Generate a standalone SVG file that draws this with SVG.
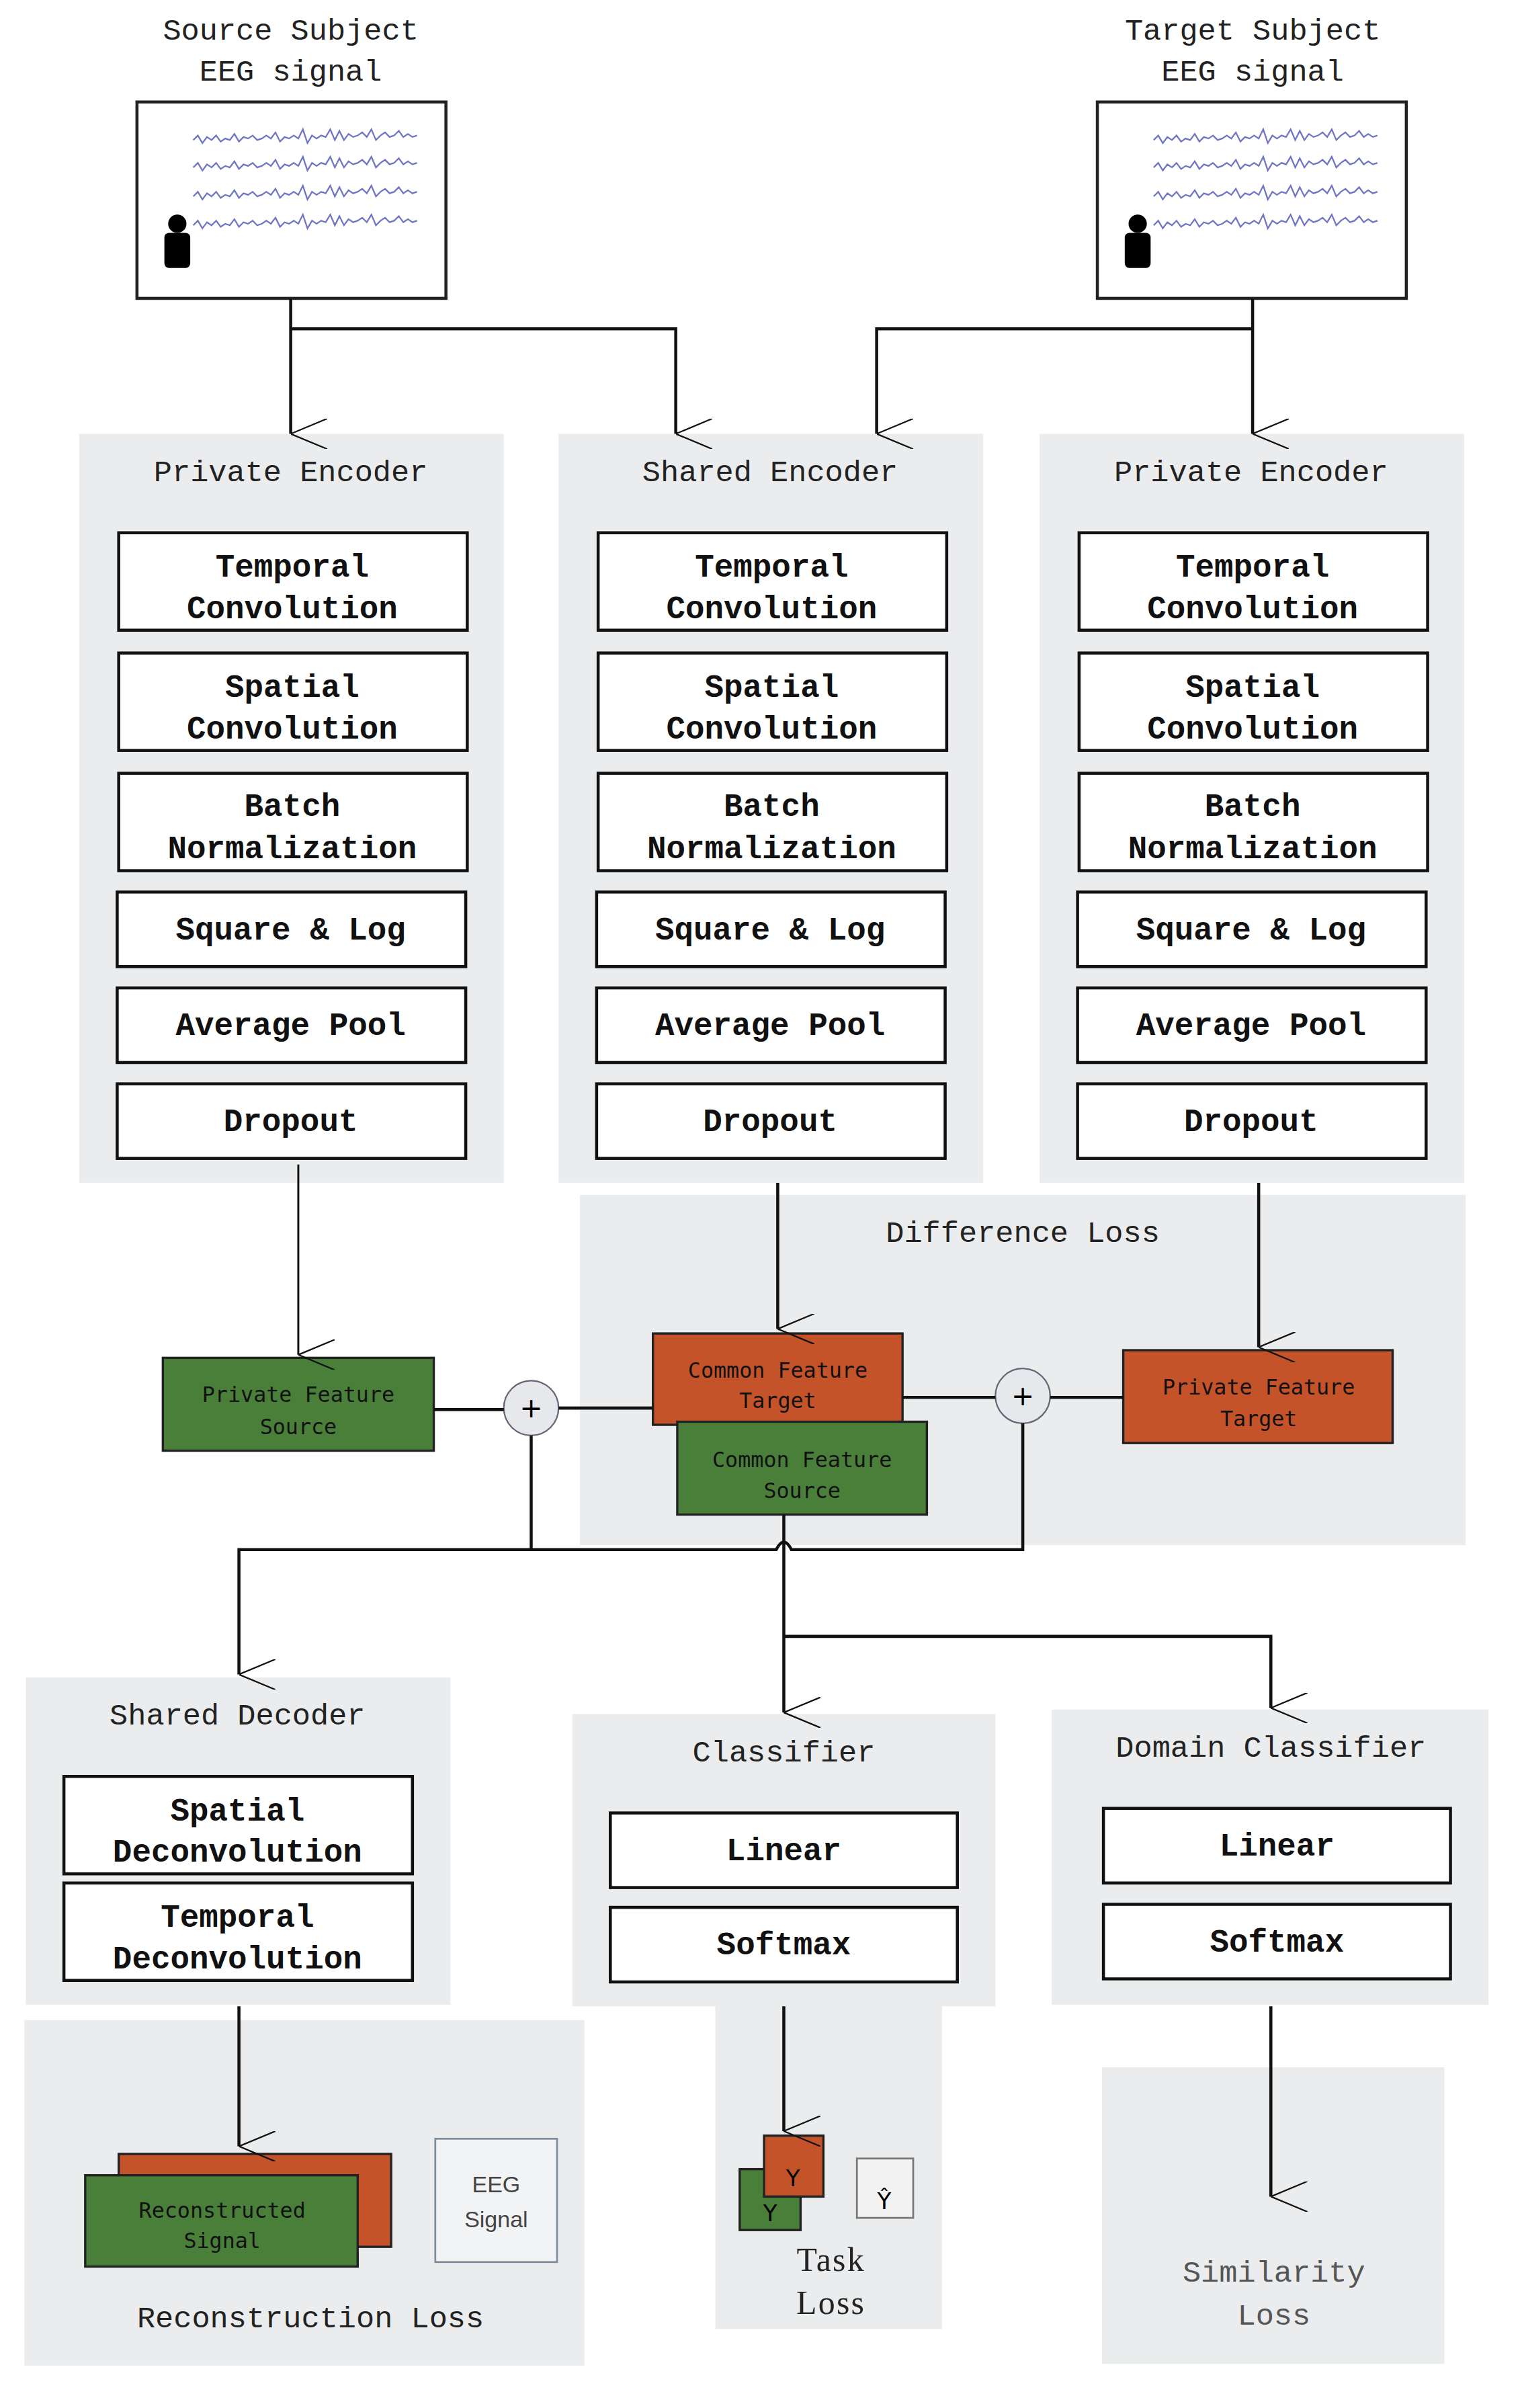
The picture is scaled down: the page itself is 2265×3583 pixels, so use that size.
<svg xmlns="http://www.w3.org/2000/svg" width="2265" height="3583" viewBox="0 0 2265 3583">
<style>
.bg{fill:#ebeced}
.box{fill:#fff;stroke:#111;stroke-width:2}
.t{font-family:"Liberation Mono",monospace;font-size:20px;fill:#222;text-anchor:middle}
.b{font-family:"Liberation Mono",monospace;font-size:21px;font-weight:bold;fill:#111;text-anchor:middle}
.s{font-family:"DejaVu Sans Mono",monospace;font-size:14px;fill:#111;text-anchor:middle}
.g{fill:#4a7f3a;stroke:#222;stroke-width:1.5}
.o{fill:#c5532a;stroke:#222;stroke-width:1.5}
.ln{fill:none;stroke:#111;stroke-width:2}
.w{fill:none;stroke:#6f75c4;stroke-width:1}
</style>
<defs>
<marker id="ar" viewBox="0 0 20 24" refX="10" refY="24" markerWidth="20" markerHeight="24" markerUnits="userSpaceOnUse" orient="auto-start-reverse">
<path d="M0,0 L10,24 L20,0" fill="none" stroke="#111" stroke-width="1"/>
</marker>
<path id="wave" d="M0,0 l3,-3 3,5 3,-4 3,2 3,-3 3,4 3,-2 3,1 3,-4 3,5 3,-3 3,1 3,-2 3,3 3,-1 3,-2 3,2 3,-4 3,6 3,-3 3,1 3,-2 3,2 3,-6 3,9 3,-5 3,2 3,-2 3,1 3,-5 3,7 3,-6 3,6 3,-4 3,2 3,-1 3,-2 3,3 3,-5 3,7 3,-3 3,-2 3,3 3,-1 3,-3 3,4 3,-2 3,2 3,-1"/>
<g id="eeg">
<use href="#wave" class="w" x="0" y="0"/>
<use href="#wave" class="w" x="0" y="18"/>
<use href="#wave" class="w" x="0" y="37"/>
<use href="#wave" class="w" x="0" y="56"/>
</g>
<g id="person" fill="#000">
<circle cx="8.5" cy="6" r="6"/>
<rect x="0" y="12" width="17" height="23" rx="3"/>
</g>
</defs>
<g transform="scale(2.265)">
<rect width="1000" height="1582" fill="#fff"/>

<!-- Inputs -->
<g id="source">
<text class="t" x="191" y="26">Source Subject</text>
<text class="t" x="191" y="53">EEG signal</text>
<rect x="90" y="67" width="203" height="129" fill="#fff" stroke="#222" stroke-width="2"/>
<use href="#eeg" x="127" y="92"/>
<use href="#person" x="108" y="141"/>
</g>
<g id="target">
<text class="t" x="823" y="26">Target Subject</text>
<text class="t" x="823" y="53">EEG signal</text>
<rect x="721" y="67" width="203" height="129" fill="#fff" stroke="#222" stroke-width="2"/>
<use href="#eeg" x="758" y="92"/>
<use href="#person" x="739" y="141"/>
</g>

<!-- Panels -->
<g id="privEncL">
<rect class="bg" x="52" y="285" width="279" height="492"/>
<text class="t" x="191" y="316">Private Encoder</text>
<rect class="box" x="78" y="350" width="229" height="64"/><text class="b" x="192" y="379">Temporal</text><text class="b" x="192" y="406">Convolution</text>
<rect class="box" x="78" y="429" width="229" height="64"/><text class="b" x="192" y="458">Spatial</text><text class="b" x="192" y="485">Convolution</text>
<rect class="box" x="78" y="508" width="229" height="64"/><text class="b" x="192" y="536">Batch</text><text class="b" x="192" y="564">Normalization</text>
<rect class="box" x="77" y="586" width="229" height="49"/><text class="b" x="191" y="617">Square &amp; Log</text>
<rect class="box" x="77" y="649" width="229" height="49"/><text class="b" x="191" y="680">Average Pool</text>
<rect class="box" x="77" y="712" width="229" height="49"/><text class="b" x="191" y="743">Dropout</text>
</g>
<g id="sharedEnc">
<rect class="bg" x="367" y="285" width="279" height="492"/>
<text class="t" x="506" y="316">Shared Encoder</text>
<rect class="box" x="393" y="350" width="229" height="64"/><text class="b" x="507" y="379">Temporal</text><text class="b" x="507" y="406">Convolution</text>
<rect class="box" x="393" y="429" width="229" height="64"/><text class="b" x="507" y="458">Spatial</text><text class="b" x="507" y="485">Convolution</text>
<rect class="box" x="393" y="508" width="229" height="64"/><text class="b" x="507" y="536">Batch</text><text class="b" x="507" y="564">Normalization</text>
<rect class="box" x="392" y="586" width="229" height="49"/><text class="b" x="506" y="617">Square &amp; Log</text>
<rect class="box" x="392" y="649" width="229" height="49"/><text class="b" x="506" y="680">Average Pool</text>
<rect class="box" x="392" y="712" width="229" height="49"/><text class="b" x="506" y="743">Dropout</text>
</g>
<g id="privEncR">
<rect class="bg" x="683" y="285" width="279" height="492"/>
<text class="t" x="822" y="316">Private Encoder</text>
<rect class="box" x="709" y="350" width="229" height="64"/><text class="b" x="823" y="379">Temporal</text><text class="b" x="823" y="406">Convolution</text>
<rect class="box" x="709" y="429" width="229" height="64"/><text class="b" x="823" y="458">Spatial</text><text class="b" x="823" y="485">Convolution</text>
<rect class="box" x="709" y="508" width="229" height="64"/><text class="b" x="823" y="536">Batch</text><text class="b" x="823" y="564">Normalization</text>
<rect class="box" x="708" y="586" width="229" height="49"/><text class="b" x="822" y="617">Square &amp; Log</text>
<rect class="box" x="708" y="649" width="229" height="49"/><text class="b" x="822" y="680">Average Pool</text>
<rect class="box" x="708" y="712" width="229" height="49"/><text class="b" x="822" y="743">Dropout</text>
</g>
<g id="diffLoss">
<rect class="bg" x="381" y="785" width="582" height="230"/>
<text class="t" x="672" y="816">Difference Loss</text>
</g>
<g id="sharedDec">
<rect class="bg" x="17" y="1102" width="279" height="215"/>
<text class="t" x="156" y="1133">Shared Decoder</text>
<rect class="box" x="42" y="1167" width="229" height="64"/><text class="b" x="156" y="1196">Spatial</text><text class="b" x="156" y="1223">Deconvolution</text>
<rect class="box" x="42" y="1237" width="229" height="64"/><text class="b" x="156" y="1266">Temporal</text><text class="b" x="156" y="1293">Deconvolution</text>
</g>
<g id="classifier">
<rect class="bg" x="376" y="1126" width="278" height="192"/>
<text class="t" x="515" y="1157">Classifier</text>
<rect class="box" x="401" y="1191" width="228" height="49"/><text class="b" x="515" y="1222">Linear</text>
<rect class="box" x="401" y="1253" width="228" height="49"/><text class="b" x="515" y="1284">Softmax</text>
</g>
<g id="domainClf">
<rect class="bg" x="691" y="1123" width="287" height="194"/>
<text class="t" x="835" y="1154">Domain Classifier</text>
<rect class="box" x="725" y="1188" width="228" height="49"/><text class="b" x="839" y="1219">Linear</text>
<rect class="box" x="725" y="1251" width="228" height="49"/><text class="b" x="839" y="1282">Softmax</text>
</g>
<g id="reconLoss">
<rect class="bg" x="16" y="1327" width="368" height="227"/>
<rect class="o" x="78" y="1415" width="179" height="61"/>
<rect class="g" x="56" y="1429" width="179" height="60"/>
<text class="s" x="146" y="1457">Reconstructed</text><text class="s" x="146" y="1477">Signal</text>
<rect x="286" y="1405" width="80" height="81" fill="#f2f3f4" stroke="#7f8c9c" stroke-width="1.2"/>
<text x="326" y="1440" font-family="Liberation Sans,sans-serif" font-size="15" fill="#444" text-anchor="middle">EEG</text>
<text x="326" y="1463" font-family="Liberation Sans,sans-serif" font-size="15" fill="#444" text-anchor="middle">Signal</text>
<text class="t" x="204" y="1529">Reconstruction Loss</text>
</g>
<g id="taskLoss">
<rect class="bg" x="470" y="1315" width="149" height="215"/>
<rect class="g" x="486" y="1425" width="40" height="40"/>
<text x="506" y="1459" font-family="DejaVu Sans,sans-serif" font-size="15" text-anchor="middle">Y</text>
<rect class="o" x="502" y="1403" width="39" height="40"/>
<text x="521" y="1436" font-family="DejaVu Sans,sans-serif" font-size="15" text-anchor="middle">Y</text>
<rect x="563" y="1418" width="37" height="39" fill="#f2f2f2" stroke="#777" stroke-width="1.2"/>
<text x="581" y="1451" font-family="DejaVu Sans,sans-serif" font-size="15" text-anchor="middle">Ŷ</text>
<text x="546" y="1492" font-family="Liberation Serif,serif" font-size="22" fill="#222" text-anchor="middle" letter-spacing="1">Task</text>
<text x="546" y="1520" font-family="Liberation Serif,serif" font-size="22" fill="#222" text-anchor="middle" letter-spacing="1">Loss</text>
</g>
<g id="simLoss">
<rect class="bg" x="724" y="1358" width="225" height="195"/>
<text class="t" x="837" y="1499" fill="#555" style="fill:#555">Similarity</text>
<text class="t" x="837" y="1527" style="fill:#555">Loss</text>
</g>

<!-- Feature nodes -->
<g id="pfs"><rect class="g" x="107" y="892" width="178" height="61"/><text class="s" x="196" y="921">Private Feature</text><text class="s" x="196" y="942">Source</text></g>
<g id="cft"><rect class="o" x="429" y="876" width="164" height="60"/><text class="s" x="511" y="905">Common Feature</text><text class="s" x="511" y="925">Target</text></g>
<g id="cfs"><rect class="g" x="445" y="934" width="164" height="61"/><text class="s" x="527" y="964">Common Feature</text><text class="s" x="527" y="984">Source</text></g>
<g id="pft"><rect class="o" x="738" y="887" width="177" height="61"/><text class="s" x="827" y="916">Private Feature</text><text class="s" x="827" y="937">Target</text></g>
<g id="plus1"><circle cx="349" cy="925" r="18" fill="#e6e8ec" stroke="#667" stroke-width="1"/><text x="349" y="931" font-family="DejaVu Sans,sans-serif" font-size="18" text-anchor="middle">+</text></g>
<g id="plus2"><circle cx="672" cy="917" r="18" fill="#e6e8ec" stroke="#667" stroke-width="1"/><text x="672" y="923" font-family="DejaVu Sans,sans-serif" font-size="18" text-anchor="middle">+</text></g>

<!-- Connectors -->
<g id="connectors" class="ln">
<path d="M191,196 V285" marker-end="url(#ar)"/>
<path d="M191,216 H444 V285" marker-end="url(#ar)"/>
<path d="M823,196 V285" marker-end="url(#ar)"/>
<path d="M823,216 H576 V285" marker-end="url(#ar)"/>
<path d="M196,765 V890" marker-end="url(#ar)" stroke-width="1.3"/>
<path d="M511,777 V873" marker-end="url(#ar)"/>
<path d="M827,777 V885" marker-end="url(#ar)"/>
<path d="M285,926 H331"/>
<path d="M367,925 H429"/>
<path d="M593,918 H654"/>
<path d="M690,918 H738"/>
<path d="M349,943 V1018"/>
<path d="M672,935 V1018 H520 Q515,1008 510,1018 H157 V1100" marker-end="url(#ar)"/>
<path d="M515,995 V1125" marker-end="url(#ar)"/>
<path d="M515,1075 H835 V1122" marker-end="url(#ar)"/>
<path d="M157,1318 V1410" marker-end="url(#ar)"/>
<path d="M515,1318 V1400" marker-end="url(#ar)"/>
<path d="M835,1318 V1443" marker-end="url(#ar)"/>
</g>
</g>
</svg>
